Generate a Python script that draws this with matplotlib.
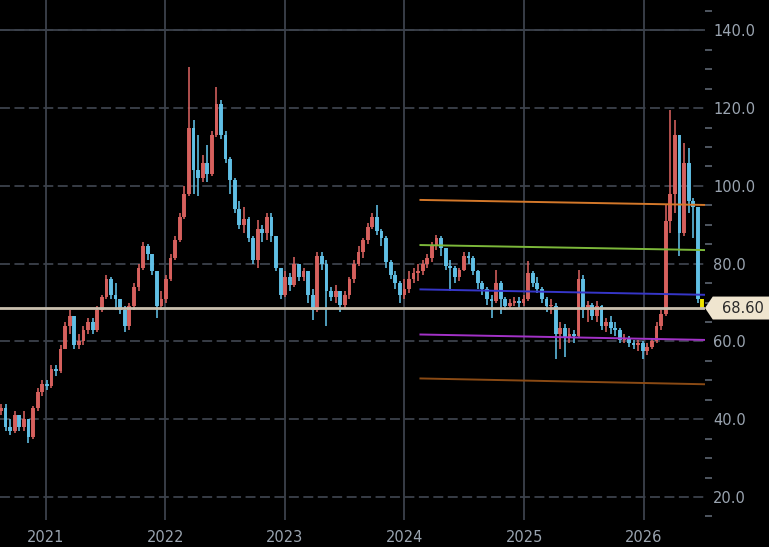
"""Dark candlestick chart with drawn trend lines and a last-price tag."""

import matplotlib

matplotlib.use("Agg")
import matplotlib.dates as mdates  # noqa: E402
import matplotlib.pyplot as plt  # noqa: E402
import matplotlib.transforms as mtransforms  # noqa: E402
import numpy as np  # noqa: E402
import pandas as pd  # noqa: E402
from matplotlib.patches import Polygon  # noqa: E402
from matplotlib.ticker import FormatStrFormatter, MultipleLocator  # noqa: E402

BG = "#000000"
GRID = "#3c424c"
TEXT = "#9aa4b0"
UP = "#d9625f"
DOWN = "#62c2e8"
LAST = "#f2e600"
PRICE_LINE = "#c9bfae"
TAG = "#efe5cf"

# biweekly candles, open = previous close
START = "2020-08-17"
first_open = 42.0
closes = [
    43, 38, 37, 41, 38, 40, 35.5, 43, 47, 49,
    48.5, 53, 52.5, 58, 64, 66.5, 59, 60, 63, 65,
    63, 68, 71.5, 76, 72, 71, 68, 64, 69, 74,
    79, 84.5, 82.5, 78, 69, 71, 76, 81.5, 86, 92,
    98, 115, 104, 102, 106, 103, 113, 121, 113, 107,
    101.5, 94, 90, 91.5, 86.5, 81, 89, 88, 92, 87,
    79, 72, 76.5, 74.5, 80, 76.5, 78, 72, 68, 82,
    80, 73, 71.5, 73, 69.5, 72, 76, 80, 83, 86,
    89.5, 92, 88.5, 86.5, 80.5, 77, 75, 72, 73.5, 76,
    77.5, 78, 80, 81.5, 84.5, 86.5, 84, 79.5, 79, 76.5,
    78.5, 82, 81.5, 78, 75, 73.5, 71, 70.5, 75, 71,
    69, 70, 70.5, 70, 71, 77.5, 75, 73.5, 71, 69,
    69, 62, 63.5, 61, 62, 61.5, 76, 68, 69.5, 66.5,
    69, 64, 65, 63.5, 63, 60.5, 61, 59.5, 59, 59.5,
    57.5, 58.5, 60, 64, 67, 91, 98, 113, 88, 106,
    96, 94.5, 71, 68.6,
]
highs = [
    44, 44, 40, 42, 41, 42, 40, 43.5, 48, 50,
    50, 54, 54, 59, 65, 68, 65, 62, 64, 66,
    66, 69, 72, 77, 76.5, 75, 71, 69, 70, 75,
    80, 85.5, 85, 82, 78, 73, 77, 82.5, 87, 93,
    100, 130.7, 117, 113, 108, 110.5, 114, 125.4, 122, 114,
    107.5, 102, 96, 94.7, 92, 87, 91.2, 90, 93, 93,
    87, 79, 78, 77.6, 81.8, 80, 79, 78, 73.5, 83,
    83, 81, 74, 74.5, 73, 73, 76.5, 81, 84.5, 86.5,
    90.5, 93, 95.1, 89, 87, 81, 78, 75.5, 76, 78,
    79, 80, 81, 82.5, 85.5, 87.5, 87, 84, 81, 79.5,
    79, 83, 83, 82, 78.5, 75.5, 74, 72, 78.5, 75.5,
    71.5, 71, 71.5, 71.5, 72, 80.6, 78, 76.5, 74, 71.5,
    71, 70, 65, 64.5, 63.5, 63, 78.4, 77, 70.5, 70,
    70.5, 69.5, 66, 66.5, 65, 63.5, 62, 61.5, 60.5, 60.5,
    60, 59.5, 61, 65, 68, 95, 119.5, 117, 113, 111,
    109.8, 97, 93, 71,
]
lows = [
    41, 37, 36, 36.5, 37, 37, 34, 35, 42, 46,
    47.5, 48, 51, 52, 58, 62, 58, 58, 59, 62,
    62, 62.5, 67.5, 71, 71, 68, 67, 62.5, 63, 68,
    73, 78.5, 81, 77, 66, 68, 70, 75.5, 81, 85.5,
    91.5, 97.5, 98, 97.5, 101, 101, 102.5, 112.5, 112, 106,
    98, 93, 89, 88, 85.5, 80, 79, 85.5, 86, 85.5,
    78, 71, 71.5, 73, 74, 75.5, 75.5, 70, 65.5, 67.5,
    78.5, 64, 70.5, 70, 67.5, 68.5, 71, 75, 79.5, 81.5,
    85, 89, 87.5, 84.5, 79, 76, 73.5, 70, 71, 72.5,
    75, 75.5, 77, 79, 80.5, 83.5, 82, 78.5, 73, 75,
    75.5, 78, 80, 77, 73.5, 72, 69.5, 66, 70, 67,
    68, 68.5, 69, 68.5, 69, 70.5, 74, 72.5, 70, 67.5,
    67, 55.5, 58, 56, 59.5, 59.5, 61, 66, 65, 65.5,
    65, 63, 62.5, 62, 61.5, 59.5, 59.5, 58.5, 58, 57.5,
    55.5, 56.5, 58, 59.5, 63, 66.5, 88, 93, 82, 87,
    93, 86.5, 70, 68.3,
]

last_price = 68.60

# drawn trend lines
trend_start = "2024-02-16"
trend_end = "2026-07-07"
trend_from = [96.4, 84.8, 73.4, 61.8, 50.5]
trend_to = [95.1, 83.5, 72.0, 60.4, 49.0]
trend_colors = ["#d4782a", "#7cb83a", "#3636c8", "#a332c8", "#8a4a14"]

y_ticks = [20, 40, 60, 80, 100, 120, 140]


def main() -> None:
    dates = pd.date_range(START, periods=len(closes), freq="14D")
    x = mdates.date2num(dates.to_pydatetime())
    c = np.array(closes, dtype=float)
    o = np.array([first_open] + closes[:-1], dtype=float)
    hi = np.maximum(np.array(highs, dtype=float), np.maximum(o, c))
    lo = np.minimum(np.array(lows, dtype=float), np.minimum(o, c))
    colors = [UP if cc >= oo else DOWN for oo, cc in zip(o, c)]
    colors[-1] = LAST

    fig = plt.figure(figsize=(7.69, 5.47), dpi=100, facecolor=BG)
    ax = fig.add_axes([0, 27 / 547, 705 / 769, 520 / 547])
    ax.set_facecolor(BG)

    ax.set_xlim(mdates.datestr2num("2020-08-14"), mdates.datestr2num("2026-07-07"))
    ax.set_ylim(14.1, 147.8)

    # grid
    ax.xaxis.set_major_locator(mdates.YearLocator())
    ax.xaxis.set_major_formatter(mdates.DateFormatter("%Y"))
    ax.yaxis.set_major_locator(MultipleLocator(20))
    ax.yaxis.set_minor_locator(MultipleLocator(5))
    ax.yaxis.set_major_formatter(FormatStrFormatter("%.1f"))
    ax.grid(True, axis="x", color=GRID, lw=1.3, ls="-", zorder=0)
    ax.grid(True, axis="y", which="major", color=GRID, lw=1.3,
            ls=(0, (5.5, 2.5)), zorder=0)
    ax.axhline(y_ticks[-1], color=GRID, lw=1.3, zorder=0.5)
    ax.set_axisbelow(True)

    # candles
    ax.vlines(x, lo, hi, colors=colors, lw=1.2, alpha=0.95, zorder=3)
    body = np.maximum(np.abs(c - o), 0.3)
    ax.bar(x, body, bottom=np.minimum(o, c), width=11.5, color=colors,
           linewidth=0, alpha=0.95, zorder=3)

    # trend lines
    t0 = mdates.datestr2num(trend_start)
    t1 = mdates.datestr2num(trend_end)
    for v0, v1, col in zip(trend_from, trend_to, trend_colors):
        ax.plot([t0, t1], [v0, v1], color=col, lw=1.4, zorder=4,
                solid_capstyle="butt")

    # last price line + tag
    ax.axhline(last_price, color=PRICE_LINE, lw=2.0, zorder=4)
    tr = mtransforms.blended_transform_factory(ax.transAxes, ax.transData)
    h = 2.95
    tag = Polygon(
        [(1.0, last_price), (1.011, last_price + h), (1.095, last_price + h),
         (1.095, last_price - h), (1.011, last_price - h)],
        closed=True, facecolor=TAG, edgecolor="none", transform=tr,
        clip_on=False, zorder=6,
    )
    ax.add_patch(tag)
    ax.text(1.054, last_price, f"{last_price:.2f}", transform=tr,
            ha="center", va="center", fontsize=10.5, color="#2a2a2a",
            zorder=7, clip_on=False)

    # axes styling
    for s in ax.spines.values():
        s.set_visible(False)
    ax.yaxis.tick_right()
    ax.tick_params(axis="y", which="major", length=0, pad=6,
                   labelsize=10.5, colors=TEXT)
    ax.tick_params(axis="y", which="minor", length=5, width=1.2,
                   color="#5d6672")
    ax.tick_params(axis="x", length=0, pad=7, labelsize=10.5, colors=TEXT)

    fig.savefig("out.png", dpi=100, facecolor=BG)
    plt.close(fig)


if __name__ == "__main__":
    main()
